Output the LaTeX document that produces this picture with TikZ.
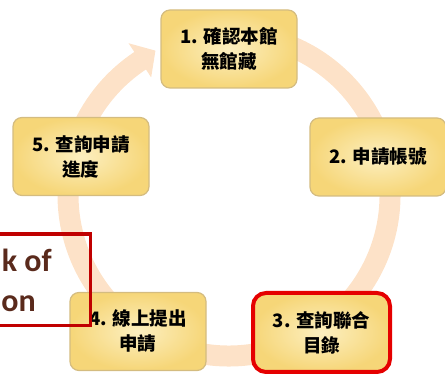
\documentclass[tikz,border=0pt]{standalone}
\usepackage{fontspec}
\newfontfamily\cjk{Noto Sans CJK TC}
\newfontfamily\lbl{Carlito}
\definecolor{ringpeach}{HTML}{FDE2C8}
\definecolor{boxedge}{HTML}{D4BC80}
\definecolor{boxlite}{HTML}{FCEFC0}
\definecolor{boxdeep}{HTML}{F6D678}
\definecolor{markred}{HTML}{C00000}
\definecolor{labelbrown}{HTML}{5A2A1C}

\begin{document}
\begin{tikzpicture}[x=1pt, y=1pt,
			stepbox/.style={draw=boxedge, line width=1.2pt, rounded corners=9pt,
				inner color=boxlite, outer color=boxdeep,
				minimum width=136pt, minimum height=78pt, align=center,
				font=\cjk\bfseries\fontsize{18.5}{25}\selectfont, text=black},
			current/.style={stepbox, draw=red!90!black, line width=4pt,
				rounded corners=13pt, minimum width=137pt, minimum height=79pt},
			ring/.style={draw=ringpeach, line width=21pt},
			redframe/.style={draw=markred, line width=3.5pt},
			cut/.style={text=labelbrown, font=\lbl\bfseries\fontsize{32}{32}\selectfont, inner sep=0pt}
			]
			\useasboundingbox (0,0) rectangle (445,382);
			\clip (0,0) rectangle (445,382);
			
			\coordinate (hub) at (229,187);
			
			%% cycle ring with its head
			\draw[ring] (hub) ++(100:161) arc[start angle=100, end angle=-237, radius=161];
			\fill[ringpeach] ([shift={(123.5:141)}]hub) -- ([shift={(117:162)}]hub)
				-- ([shift={(123.5:182)}]hub) -- cycle;
			
			%% steps
			\node[stepbox] (verify) at (229,333) {1. 確認本館\\無館藏};
			\node[stepbox] (apply)  at (378,225) {2. 申請帳號};
			\node[current] (union)  at (321.5,49.5) {3. 查詢聯合\\目錄};
			\node[stepbox] (submit) at (138,50.5) {4. 線上提出\\申請};
			\node[stepbox] (track)  at (81,225.5) {5. 查詢申請\\進度};
			
			%% box cut off at the left
			\draw[redframe] (-10,148) rectangle (90.5,56.5);
			\node[cut, anchor=base east] (cutof) at (52,110) {k of};
			\node[cut, anchor=base east] (cuton) at (36,70) {on};
			
\end{tikzpicture}
\end{document}
